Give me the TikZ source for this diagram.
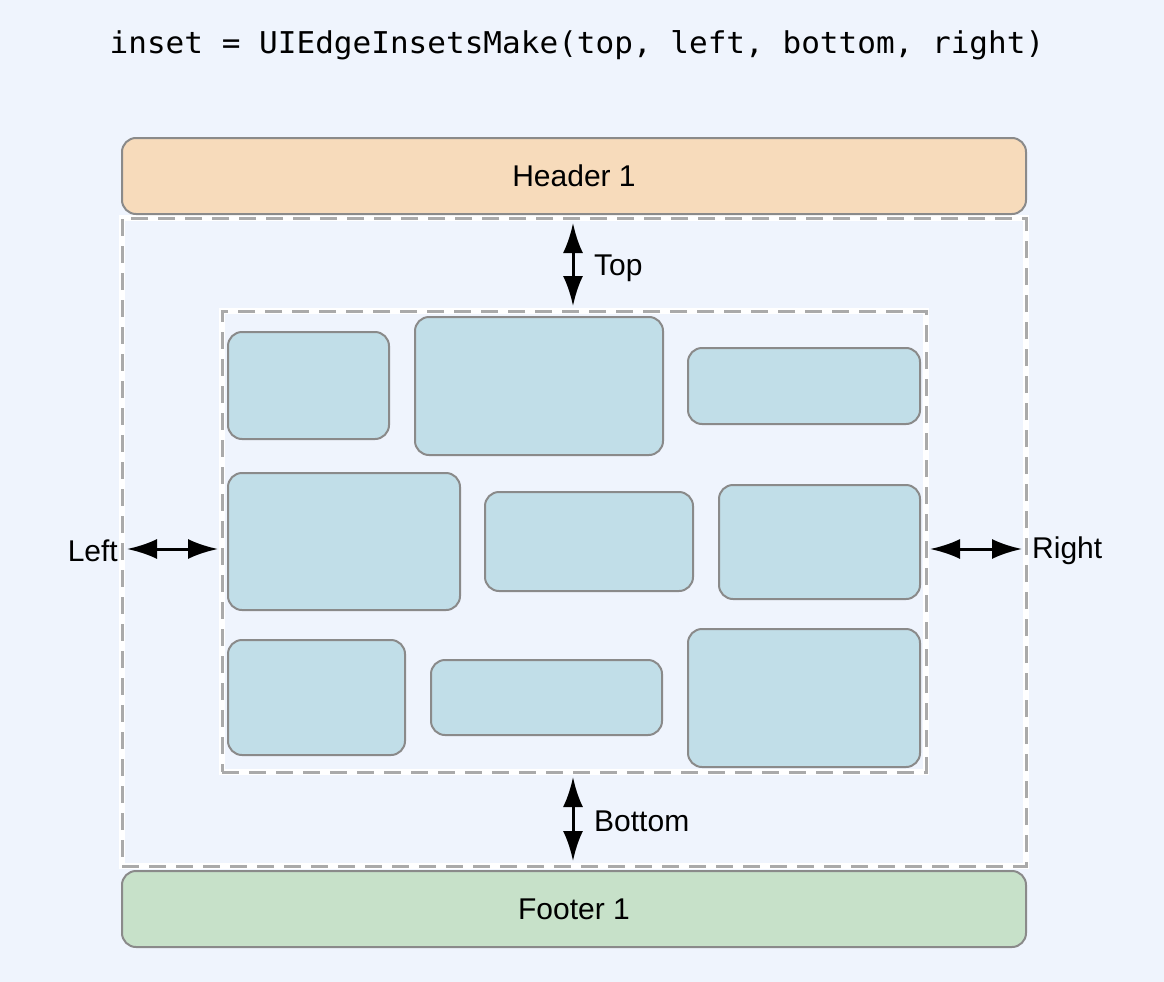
\documentclass[tikz,border=0pt]{standalone}
\usepackage{fontspec}
\setmainfont{Liberation Sans}
\newfontfamily\codefont{DejaVu Sans Mono}
\usetikzlibrary{arrows.meta}
\definecolor{bgc}{RGB}{239,244,253}
\definecolor{hdrc}{RGB}{247,219,187}
\definecolor{ftrc}{RGB}{199,225,201}
\definecolor{cellc}{RGB}{193,222,232}
\definecolor{edgec}{RGB}{138,138,138}
\definecolor{dashc}{RGB}{170,170,170}
\tikzset{
  bar/.style={draw=edgec, line width=2pt, rounded corners=14pt, inner sep=0pt,
    minimum width=904pt, minimum height=76pt, font=\fontsize{30}{36}\selectfont},
  cell/.style={draw=edgec, fill=cellc, line width=2pt, rounded corners=14pt, inner sep=0pt},
  frameunder/.style={draw=white, line width=6pt, inner sep=0pt},
  frameover/.style={draw=dashc, line width=3pt, dash pattern=on 17pt off 10pt, inner sep=0pt},
  bigtip/.tip={Latex[length=30pt,width=20pt]},
  dimarrow/.style={line width=3pt, arrows={bigtip-bigtip}},
  lbl/.style={font=\fontsize{30}{36}\selectfont, inner sep=0pt}
}
\begin{document}
\begin{tikzpicture}[x=1pt,y=-1pt]
\fill[bgc] (0,0) rectangle (1164,982);
\useasboundingbox (0,0) rectangle (1164,982);
\node[font=\codefont\fontsize{30}{36}\selectfont, anchor=base, inner sep=0pt] (title) at (577,54) {\scalebox{1.035}[1]{inset = UIEdgeInsetsMake(top, left, bottom, right)}};
% outer and inner frames
\node[frameunder, minimum width=904pt, minimum height=648pt] (outerU) at (574,542) {};
\node[frameunder, minimum width=704pt, minimum height=461pt] (innerU) at (574,541.5) {};
\node[frameover, minimum width=904pt, minimum height=648pt] (outer) at (574,542) {};
\node[frameover, minimum width=704pt, minimum height=461pt] (inner) at (574,541.5) {};
% header and footer
\node[bar, fill=hdrc] (header) at (574,176) {Header 1};
\node[bar, fill=ftrc] (footer) at (574,909) {Footer 1};
% cells
\node[cell, minimum width=161pt, minimum height=107pt] (b1) at (308.5,385.5) {};
\node[cell, minimum width=248pt, minimum height=138pt] (b2) at (539,386) {};
\node[cell, minimum width=232pt, minimum height=76pt] (b3) at (804,386) {};
\node[cell, minimum width=232pt, minimum height=137pt] (b4) at (344,541.5) {};
\node[cell, minimum width=208pt, minimum height=99pt] (b5) at (589,541.5) {};
\node[cell, minimum width=201pt, minimum height=114pt] (b6) at (819.5,542) {};
\node[cell, minimum width=177pt, minimum height=115pt] (b7) at (316.5,697.5) {};
\node[cell, minimum width=231pt, minimum height=75pt] (b8) at (546.5,697.5) {};
\node[cell, minimum width=232pt, minimum height=138pt] (b9) at (804,698) {};
% arrow end points
\coordinate (t1) at (573,223);
\coordinate (t2) at (573,306);
\coordinate (m1) at (573,777);
\coordinate (m2) at (573,861);
\coordinate (l1) at (127,549);
\coordinate (l2) at (218,549);
\coordinate (r1) at (930,549);
\coordinate (r2) at (1022,549);
\draw[dimarrow] (t1) -- (t2);
\draw[dimarrow] (m1) -- (m2);
\draw[dimarrow] (l1) -- (l2);
\draw[dimarrow] (r1) -- (r2);
% labels
\node[lbl, anchor=west] (ltop) at (594,268) {Top};
\node[lbl, anchor=west] (lbottom) at (594,821) {Bottom};
\node[lbl, anchor=east] (lleft) at (118,551) {Left};
\node[lbl, anchor=west] (lright) at (1032,551) {Right};
\end{tikzpicture}
\end{document}
